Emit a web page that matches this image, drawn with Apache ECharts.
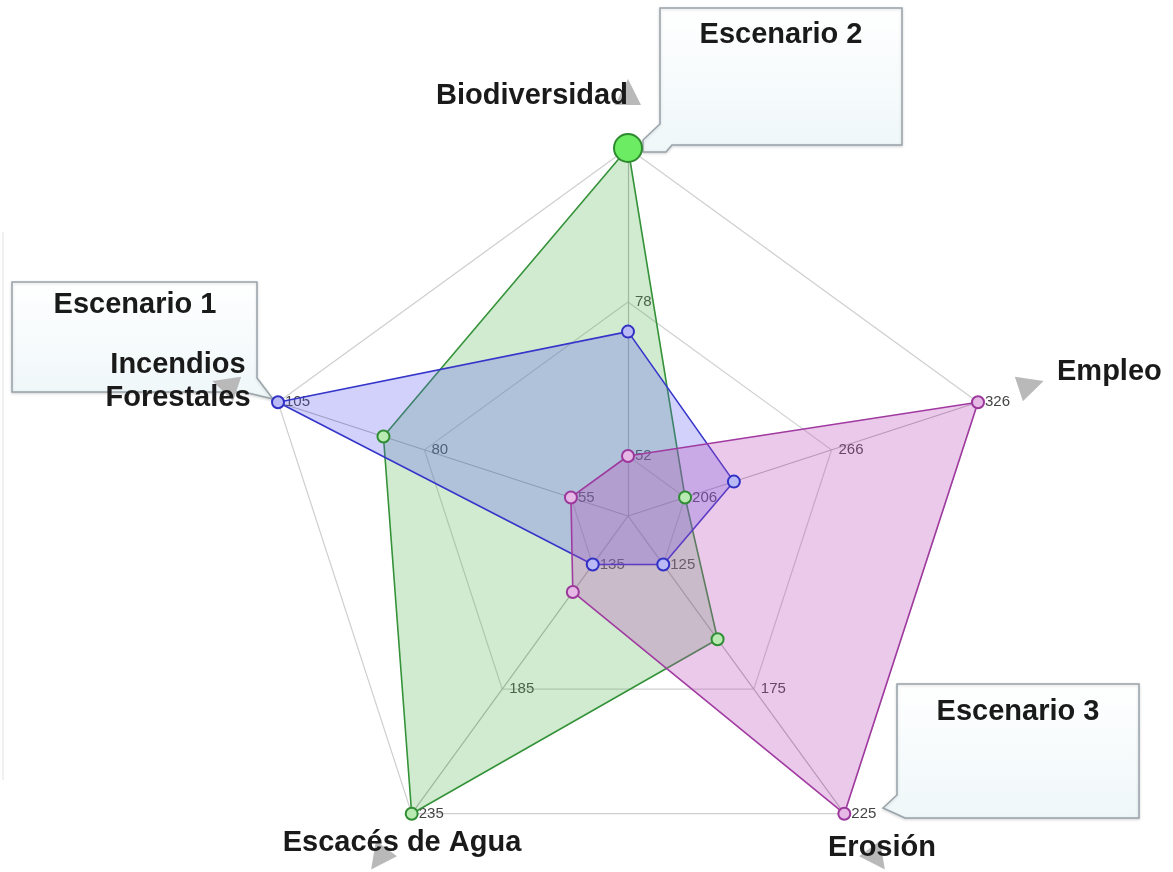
<!DOCTYPE html>
<html>
<head>
<meta charset="utf-8">
<script src="https://cdn.jsdelivr.net/npm/echarts@6/dist/echarts.min.js"></script>
<style>
  html, body { margin: 0; padding: 0; background: #fff; }
  #main { width: 1173px; height: 872px; }
</style>
</head>
<body>
<div id="main"></div>
<script>
// ejes en el orden de ECharts (antihorario empezando arriba)
var categorias = ['Biodiversidad', 'Incendios Forestales', 'Escacés de Agua', 'Erosión', 'Empleo'];
var ejeMin = [52, 55, 135, 125, 206];
var ejeMax = [104, 105, 235, 225, 326];

var escenarios = ['Escenario 1', 'Escenario 2', 'Escenario 3'];
var escenario1 = [73, 105, 135, 125, 226];
var escenario2 = [104, 87, 235, 155, 206];
var escenario3 = [52, 55, 146, 225, 326];

var centro = [628, 516];
var fuente = '"Liberation Sans", Arial, sans-serif';

var myChart = echarts.init(document.getElementById('main'));

var indicadores = categorias.map(function (c, i) {
  return { name: c, min: ejeMin[i], max: ejeMax[i] };
});

// caja tipo "bocadillo"
function caja(puntos, z) {
  return {
    type: 'polygon',
    z: z,
    shape: { points: puntos },
    style: {
      fill: new echarts.graphic.LinearGradient(0, 0, 0, 1, [
        { offset: 0, color: '#ffffff' },
        { offset: 1, color: '#eff7f9' }
      ]),
      stroke: '#98a3aa',
      lineWidth: 1.5,
      shadowBlur: 3,
      shadowColor: 'rgba(0,0,0,0.15)',
      shadowOffsetY: 1
    }
  };
}
function texto(t, x, y, align) {
  return {
    type: 'text',
    z: 10,
    x: x,
    y: y,
    style: {
      text: t,
      fontSize: 29,
      fontWeight: 'bold',
      fontFamily: fuente,
      fill: '#1a1a1a',
      align: align || 'center',
      verticalAlign: 'middle',
      lineHeight: 33
    }
  };
}

var option = {
  backgroundColor: '#fff',
  animation: false,
  radar: [
    {
      center: centro,
      radius: [60, 368],
      startAngle: 90,
      splitNumber: 2,
      shape: 'polygon',
      indicator: indicadores,
      axisName: { show: false },
      axisLine: {
        lineStyle: { color: '#b9b9b9', width: 1.2 },
        symbol: ['none', 'triangle'],
        symbolSize: [26, 26],
        symbolOffset: [0, 56]
      },
      axisTick: { show: false },
      axisLabel: {
        show: true,
        color: '#444',
        fontSize: 15,
        fontFamily: fuente,
        margin: 0,
        align: 'left',
        verticalAlign: 'middle',
        padding: [0, 0, 5, 7]
      },
      splitLine: { lineStyle: { color: '#cfcfcf', width: 1.2 } },
      splitArea: { show: false }
    },
    {
      // radios interiores hasta el centro
      center: centro,
      radius: 60,
      startAngle: 90,
      splitNumber: 1,
      shape: 'polygon',
      indicator: indicadores,
      axisName: { show: false },
      axisLine: { lineStyle: { color: '#b9b9b9', width: 1.2 } },
      axisTick: { show: false },
      axisLabel: { show: false },
      splitLine: { show: false },
      splitArea: { show: false }
    },
    {
      // solo para el punto resaltado de Biodiversidad
      center: centro,
      radius: [60, 368],
      startAngle: 90,
      splitNumber: 2,
      indicator: [indicadores[0]],
      axisName: { show: false },
      axisLine: { show: false },
      axisTick: { show: false },
      axisLabel: { show: false },
      splitLine: { show: false },
      splitArea: { show: false }
    }
  ],
  series: [
    {
      type: 'radar',
      radarIndex: 0,
      symbol: 'circle',
      symbolSize: 12,
      data: [
        {
          name: escenarios[1],
          value: escenario2,
          lineStyle: { color: '#2f8d34', width: 1.6 },
          areaStyle: { color: 'rgba(90,182,90,0.4)' },
          itemStyle: { color: '#b8eab2', borderColor: '#2f8d34', borderWidth: 2 }
        },
        {
          name: escenarios[0],
          value: escenario1,
          lineStyle: { color: '#3030c4', width: 1.6 },
          areaStyle: { color: 'rgba(90,90,240,0.4)' },
          itemStyle: { color: '#b9b9f5', borderColor: '#3030c4', borderWidth: 2 }
        },
        {
          name: escenarios[2],
          value: escenario3,
          lineStyle: { color: '#9c389c', width: 1.6 },
          areaStyle: { color: 'rgba(185,75,185,0.43)' },
          itemStyle: { color: '#e6b8e6', borderColor: '#9c389c', borderWidth: 2 }
        }
      ]
    },
    {
      type: 'radar',
      radarIndex: 2,
      z: 5,
      symbol: 'circle',
      symbolSize: 28,
      data: [
        {
          name: escenarios[1],
          value: [escenario2[0]],
          lineStyle: { width: 0, opacity: 0 },
          itemStyle: { color: '#6cec62', borderColor: '#2f8a2f', borderWidth: 2 }
        }
      ]
    }
  ],
  graphic: [
    { type: 'line', z: -2, shape: { x1: 3, y1: 232, x2: 3, y2: 780 }, style: { stroke: '#e2e2e2', lineWidth: 1 } },
    caja([[660, 8], [902, 8], [902, 145], [672, 145], [666, 152], [643, 152], [643, 140], [660, 124]], 1),
    caja([[12, 282], [257, 282], [257, 378], [273, 399], [244, 392], [12, 392]], -1),
    caja([[897, 684], [1139, 684], [1139, 818], [905, 818], [883, 808], [897, 795]], -1),
    texto(escenarios[1], 781, 35),
    texto(escenarios[0], 135, 305),
    texto(escenarios[2], 1018, 712),
    texto(categorias[0], 532, 96),
    texto(categorias[1].replace(' ', '\n'), 178, 381),
    texto(categorias[2], 402, 843),
    texto(categorias[3], 882, 848),
    texto(categorias[4], 1057, 372, 'left')
  ]
};

myChart.setOption(option);
</script>
</body>
</html>
